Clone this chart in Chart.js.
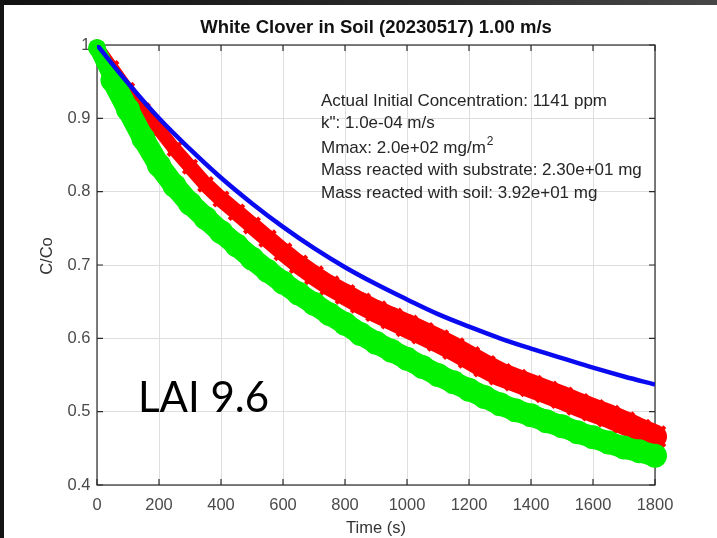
<!DOCTYPE html>
<html>
<head>
<meta charset="utf-8">
<title>White Clover in Soil</title>
<script src="https://cdn.jsdelivr.net/npm/chart.js@4.4.1/dist/chart.umd.min.js"></script>
<style>
  html, body { margin: 0; padding: 0; background: #fff; }
  body { width: 717px; height: 538px; position: relative; overflow: hidden; }
  #chart { position: absolute; left: 0; top: 0; }
  /* dark slide frame round the figure */
  #frameTop { position: absolute; left: 0; top: 0; width: 717px; height: 5px;
    background: linear-gradient(to right, #111 0%, #2b2b2b 60%, #474747 100%); }
  #frameLeft { position: absolute; left: 0; top: 0; width: 4px; height: 538px; background: #141414; }
</style>
</head>
<body>
<canvas id="chart" width="717" height="538"></canvas>
<div id="frameTop"></div>
<div id="frameLeft"></div>
<script>
// Model curve (blue), read every 100 s
const modelTime = [0, 100, 200, 300, 400, 500, 600, 700, 800, 900, 1000, 1100, 1200, 1300, 1400, 1500, 1600, 1700, 1800];
const modelValues = [1.000, 0.948, 0.900, 0.858, 0.819, 0.784, 0.752, 0.723, 0.697, 0.674, 0.653, 0.633, 0.616, 0.600, 0.586, 0.573, 0.560, 0.548, 0.537];

// Measured runs (centre of the marker bands), read every 50 s
const measTime = [0, 50, 100, 150, 200, 250, 300, 350, 400, 450, 500, 550, 600, 650, 700, 750, 800, 850, 900,
  950, 1000, 1050, 1100, 1150, 1200, 1250, 1300, 1350, 1400, 1450, 1500, 1550, 1600, 1650, 1700, 1750, 1800];
const redValues = [1.000, 0.970, 0.940, 0.912, 0.885, 0.858, 0.834, 0.810, 0.790, 0.772, 0.754, 0.736, 0.718,
  0.701, 0.686, 0.672, 0.660, 0.648, 0.637, 0.627, 0.617, 0.607, 0.597, 0.586, 0.574, 0.562, 0.551, 0.543,
  0.535, 0.527, 0.519, 0.510, 0.502, 0.494, 0.485, 0.475, 0.466];
const greenValues = [0.996, 0.952, 0.912, 0.872, 0.836, 0.808, 0.784, 0.764, 0.745, 0.727, 0.709, 0.692, 0.676,
  0.661, 0.647, 0.633, 0.620, 0.606, 0.594, 0.583, 0.572, 0.561, 0.550, 0.540, 0.530, 0.520, 0.510, 0.502,
  0.495, 0.487, 0.480, 0.472, 0.465, 0.458, 0.451, 0.446, 0.440];

// Axes
const xTicks = [0, 200, 400, 600, 800, 1000, 1200, 1400, 1600, 1800];
const yTicks = [0.4, 0.5, 0.6, 0.7, 0.8, 0.9, 1];

// Texts
const chartTitle = 'White Clover in Soil (20230517) 1.00 m/s';
const yTitle = 'C/Co';
const infoLines = [
  'Actual Initial Concentration: 1141 ppm',
  'k": 1.0e-04 m/s',
  'Mmax: 2.0e+02 mg/m^2',
  'Mass reacted with substrate: 2.30e+01 mg',
  'Mass reacted with soil: 3.92e+01 mg'
];
const laiLabel = 'LAI 9.6';

const FONT = '"Liberation Sans", Arial, Helvetica, sans-serif';
Chart.defaults.font.family = FONT;

function toPoints(xs, ys) {
  return xs.map((t, i) => ({ x: t, y: ys[i] }));
}

// band thickness of the markers (style only)
function redWidth(t) {
  return 11 + 13 * Math.min(1, t / 1000);
}
function greenWidth(t) {
  return t < 50 ? 16 : 22;
}

// Axes box, inward ticks, title and text annotations
const figureDecor = {
  id: 'figureDecor',
  beforeDatasetsDraw(chart) {
    const { ctx, chartArea: a, scales: { x, y } } = chart;
    ctx.save();
    ctx.strokeStyle = '#2b2b2b';
    ctx.lineWidth = 1.2;
    ctx.strokeRect(a.left, a.top, a.right - a.left, a.bottom - a.top);
    ctx.beginPath();
    xTicks.forEach(v => {
      const px = x.getPixelForValue(v);
      ctx.moveTo(px, a.bottom); ctx.lineTo(px, a.bottom - 6);
      ctx.moveTo(px, a.top); ctx.lineTo(px, a.top + 6);
    });
    yTicks.forEach(v => {
      const py = y.getPixelForValue(v);
      ctx.moveTo(a.left, py); ctx.lineTo(a.left + 6, py);
      ctx.moveTo(a.right, py); ctx.lineTo(a.right - 6, py);
    });
    ctx.stroke();
    ctx.restore();
  },
  afterDraw(chart) {
    const { ctx, chartArea: a } = chart;
    ctx.save();
    // title
    ctx.fillStyle = '#111';
    ctx.font = 'bold 18.5px ' + FONT;
    ctx.textAlign = 'center';
    ctx.textBaseline = 'middle';
    ctx.fillText(chartTitle, (a.left + a.right) / 2, 28);

    // y axis title
    ctx.save();
    ctx.translate(47.5, 256);
    ctx.rotate(-Math.PI / 2);
    ctx.fillStyle = '#333';
    ctx.font = '16.5px ' + FONT;
    ctx.fillText(yTitle, 0, 0);
    ctx.restore();

    // info box lines
    ctx.textAlign = 'left';
    ctx.fillStyle = '#262626';
    const lineY = [101, 123, 148, 170, 193];
    infoLines.forEach((line, i) => {
      ctx.font = '17px ' + FONT;
      const parts = line.split('^');
      ctx.fillText(parts[0], 321, lineY[i]);
      if (parts[1]) {
        const w = ctx.measureText(parts[0]).width;
        ctx.font = '12px ' + FONT;
        ctx.fillText(parts[1], 321 + w + 1, lineY[i] - 6);
      }
    });

    // slide label
    ctx.fillStyle = '#000';
    ctx.font = '42px Lato, "Open Sans", sans-serif';
    ctx.textBaseline = 'alphabetic';
    ctx.fillText(laiLabel, 138, 412);
    ctx.restore();
  }
};

new Chart(document.getElementById('chart'), {
  type: 'line',
  data: {
    datasets: [
      {
        label: 'Model',
        data: toPoints(modelTime, modelValues),
        borderColor: '#0a0af0',
        borderWidth: 4.5,
        pointRadius: 0,
        tension: 0.4,
        fill: false
      },
      {
        label: 'Soil',
        data: toPoints(measTime, greenValues),
        borderColor: '#00f000',
        backgroundColor: '#00f000',
        borderWidth: 22,
        segment: {
          borderWidth: c => greenWidth(c.p0.parsed.x)
        },
        borderCapStyle: 'round',
        borderJoinStyle: 'round',
        pointStyle: 'circle',
        pointRadius: c => greenWidth(measTime[c.dataIndex]) / 2 + 1,
        pointBorderWidth: 0,
        pointBackgroundColor: '#00f000',
        tension: 0,
        clip: false,
        fill: false
      },
      {
        label: 'Substrate',
        data: toPoints(measTime, redValues),
        borderColor: '#ff0000',
        backgroundColor: '#ff0000',
        borderWidth: 14,
        segment: {
          borderWidth: c => redWidth(c.p0.parsed.x)
        },
        borderCapStyle: 'round',
        borderJoinStyle: 'round',
        pointStyle: 'crossRot',
        pointRadius: c => c.dataIndex === 0 ? 0 : redWidth(measTime[c.dataIndex]) / 2 + 2,
        pointBorderWidth: 4,
        pointBorderColor: '#ff0000',
        tension: 0,
        clip: false,
        fill: false
      }
    ]
  },
  options: {
    responsive: false,
    animation: false,
    layout: { padding: { left: 0, top: 45, right: 62, bottom: 0 } },
    plugins: {
      legend: { display: false },
      tooltip: { enabled: false },
      title: { display: false }
    },
    scales: {
      x: {
        type: 'linear',
        min: 0,
        max: 1800,
        afterBuildTicks: s => { s.ticks = xTicks.map(v => ({ value: v })); },
        afterFit: s => { s.height = 53; },
        grid: { color: '#dedede', lineWidth: 1, drawTicks: false },
        border: { display: false },
        ticks: { color: '#4a4a4a', font: { size: 16.5 }, padding: 11, maxRotation: 0, callback: v => String(v) },
        title: { display: true, text: 'Time (s)', color: '#333', font: { size: 16.5 }, padding: { top: 0, bottom: 0 } }
      },
      y: {
        type: 'linear',
        min: 0.4,
        max: 1,
        afterBuildTicks: s => { s.ticks = yTicks.map(v => ({ value: v })); },
        afterFit: s => { s.width = 97; },
        grid: { color: '#dedede', lineWidth: 1, drawTicks: false },
        border: { display: false },
        ticks: { color: '#4a4a4a', font: { size: 16.5 }, padding: 6.5, callback: v => String(v) },
        title: { display: false }
      }
    }
  },
  plugins: [figureDecor]
});
</script>
</body>
</html>
